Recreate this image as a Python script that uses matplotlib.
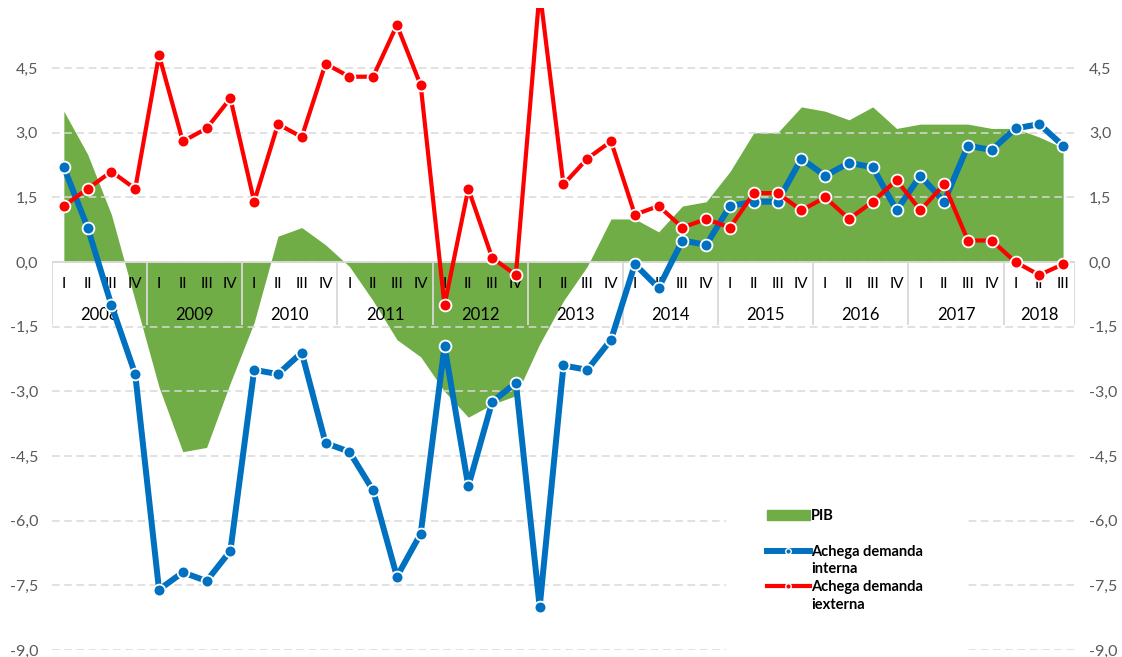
import numpy as np
import matplotlib
matplotlib.use("Agg")
import matplotlib.pyplot as plt
from matplotlib.lines import Line2D
from matplotlib.patches import Patch
from matplotlib.ticker import FuncFormatter

plt.rcParams['font.family'] = ['Lato', 'DejaVu Sans']

years = ['2008', '2009', '2010', '2011', '2012', '2013', '2014', '2015', '2016', '2017', '2018']
quarters = ['I', 'II', 'III', 'IV']
n_quarters = [4, 4, 4, 4, 4, 4, 4, 4, 4, 4, 3]

pib = [3.5, 2.5, 1.1, -0.9,
       -2.9, -4.4, -4.3, -2.8,
       -1.4, 0.6, 0.8, 0.4,
       -0.1, -0.9, -1.8, -2.2,
       -3.0, -3.6, -3.3, -3.1,
       -1.9, -0.9, -0.1, 1.0,
       1.0, 0.7, 1.3, 1.4,
       2.1, 3.0, 3.0, 3.6,
       3.5, 3.3, 3.6, 3.1,
       3.2, 3.2, 3.2, 3.1,
       3.1, 2.9, 2.65]

interna = [2.2, 0.8, -1.0, -2.6,
           -7.6, -7.2, -7.4, -6.7,
           -2.5, -2.6, -2.1, -4.2,
           -4.4, -5.3, -7.3, -6.3,
           -1.95, -5.2, -3.25, -2.8,
           -8.0, -2.4, -2.5, -1.8,
           -0.05, -0.6, 0.5, 0.4,
           1.3, 1.4, 1.4, 2.4,
           2.0, 2.3, 2.2, 1.2,
           2.0, 1.4, 2.7, 2.6,
           3.1, 3.2, 2.7]

externa = [1.3, 1.7, 2.1, 1.7,
           4.8, 2.8, 3.1, 3.8,
           1.4, 3.2, 2.9, 4.6,
           4.3, 4.3, 5.5, 4.1,
           -1.0, 1.7, 0.1, -0.3,
           6.3, 1.8, 2.4, 2.8,
           1.1, 1.3, 0.8, 1.0,
           0.8, 1.6, 1.6, 1.2,
           1.5, 1.0, 1.4, 1.9,
           1.2, 1.8, 0.5, 0.5,
           0.0, -0.3, -0.05]

labels_q = []
for n in n_quarters:
    labels_q += quarters[:n]

green = '#70AD47'
blue = '#0070C0'
red = '#FF0000'
grey_txt = '#595959'
axis_grey = '#D9D9D9'

x = np.arange(len(pib))

fig = plt.figure(figsize=(11.22, 6.57), dpi=100)
ax = fig.add_axes([0.0463, 0.0107, 0.9118, 0.9775])

ax.fill_between(x, pib, 0, color=green, lw=0, zorder=1)

ax.set_xlim(-0.5, len(x) - 0.5)
ax.set_ylim(-9, 5.9)
ax.set_yticks(np.arange(-9, 4.6, 1.5))
ax.yaxis.set_major_formatter(FuncFormatter(lambda v, p: ('%.1f' % v).replace('.', ',')))
ax.tick_params(axis='y', length=0, labelsize=11.5, labelcolor=grey_txt, pad=10,
               labelright=True, right=False)
ax.set_xticks([])
ax.grid(axis='y', color=axis_grey, ls=(0, (5, 3)), lw=1.1, zorder=0)
for s in ax.spines.values():
    s.set_visible(False)

# category axis at zero
ax.axhline(0, color=axis_grey, lw=1.3, zorder=2)
bounds = np.concatenate([[0], np.cumsum(n_quarters)]) - 0.5
ax.vlines(bounds, -1.45, 0, color=axis_grey, lw=1.3, zorder=2)
for i, q in enumerate(labels_q):
    ax.text(i, -0.52, q, ha='center', va='center', fontsize=11, color='black', zorder=3)
for k, yl in enumerate(years):
    ax.text((bounds[k] + bounds[k + 1]) / 2, -1.24, yl, ha='center', va='center',
            fontsize=12, color='black', zorder=3)

ax.plot(x, interna, color=blue, lw=4.3, marker='o', ms=8.5, mfc=blue, mec='white',
        mew=1.3, zorder=4, solid_joinstyle='round')
ax.plot(x, externa, color=red, lw=3.0, marker='o', ms=8.5, mfc=red, mec='white',
        mew=1.3, zorder=5, solid_joinstyle='round')

# legend: one row per text line, blank row after PIB
blank = Line2D([], [], color='none')
handles = [Patch(color=green),
           blank,
           Line2D([], [], color=blue, lw=4.3, marker='o', ms=4, mfc=blue, mec='white'),
           blank,
           Line2D([], [], color=red, lw=3.0, marker='o', ms=4, mfc=red, mec='white'),
           blank]
texts = ['PIB', ' ', 'Achega demanda', 'interna', 'Achega demanda', 'iexterna']
leg = ax.legend(handles, texts, loc='upper left', bbox_to_anchor=(0.6475, 0.2867),
                bbox_transform=fig.transFigure, borderaxespad=0,
                frameon=True, facecolor='white', edgecolor='none', framealpha=1,
                fancybox=False, borderpad=2.8, handlelength=2.9, handletextpad=0.1,
                labelspacing=0.25, prop={'weight': 'bold', 'size': 10.5})
leg.set_zorder(6)

fig.savefig('out.png', dpi=100)
